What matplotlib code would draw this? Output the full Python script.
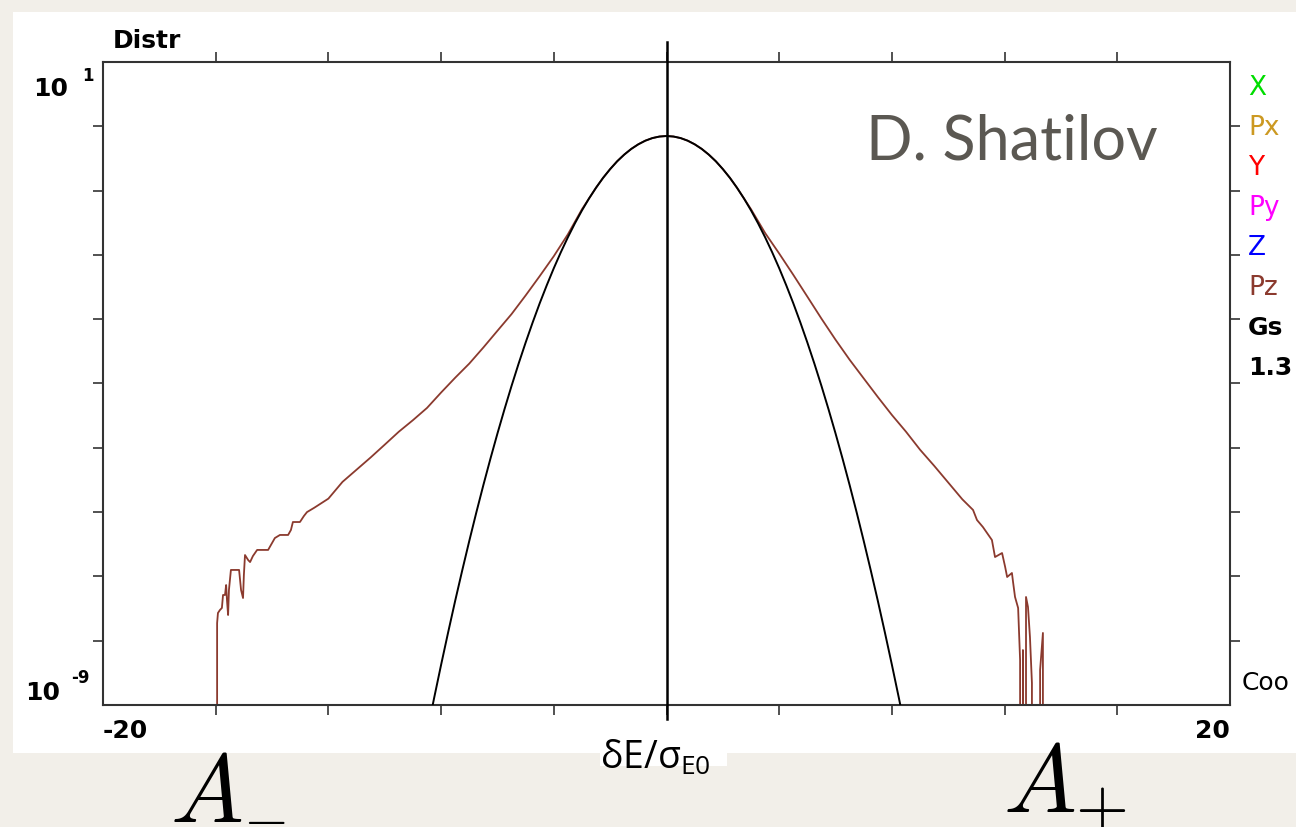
import matplotlib.pyplot as plt
import numpy as np
from matplotlib.patches import Rectangle
from matplotlib.ticker import NullLocator

# Gaussian fit (sigma ~ 1.3), one half; mirrored below
gs_half_x = [0.0, 0.25, 0.5, 0.75, 1.0, 1.25, 1.5, 1.75, 2.0, 2.25, 2.5, 2.75,
             3.0, 3.25, 3.5, 3.75, 4.0, 4.25, 4.5, 4.75, 5.0, 5.25, 5.5, 5.75,
             6.0, 6.25, 6.5, 6.75, 7.0, 7.25, 7.5, 7.75, 8.0, 8.25, 8.5]
gs_half_val = [0.706, 0.693, 0.656, 0.598, 0.525, 0.445, 0.363, 0.286, 0.216,
               0.158, 0.111, 0.0754, 0.0492, 0.0310, 0.0188, 0.0110, 6.21e-3,
               3.37e-3, 1.77e-3, 8.91e-4, 4.33e-4, 2.03e-4, 9.16e-5, 3.98e-5,
               1.67e-5, 6.75e-6, 2.63e-6, 9.86e-7, 3.56e-7, 1.24e-7, 4.18e-8,
               1.35e-8, 4.22e-9, 1.27e-9, 3.67e-10]

# Pz distribution (0 = empty bin)
pz_x = [-16.5, -15.96, -15.95, -15.92, -15.85, -15.78, -15.74, -15.67, -15.63,
        -15.60, -15.56, -15.53, -15.46, -15.17, -15.10, -15.03, -15.00, -14.96,
        -14.85, -14.78, -14.68, -14.53, -14.14, -14.04, -13.90, -13.72, -13.43,
        -13.33, -13.26, -13.01, -12.87, -12.76, -12.5, -12.0, -11.5, -11.0,
        -10.5, -10.0, -9.5, -9.0, -8.5, -8.0, -7.5, -7.0, -6.5, -6.0, -5.5,
        -5.0, -4.5, -4.0, -3.5, -3.0, -2.75, -2.5, -2.25, -2.0, -1.75, -1.5,
        -1.25, -1.0, -0.75, -0.5, -0.25, 0.0, 0.25, 0.5, 0.75, 1.0, 1.25, 1.5,
        1.75, 2.0, 2.25, 2.5, 2.75, 3.0, 3.5, 4.0, 4.5, 5.0, 5.5, 6.0, 6.5,
        7.0, 7.5, 8.0, 8.5, 9.0, 9.5, 10.0, 10.5, 10.88, 11.02, 11.23, 11.55,
        11.66, 11.91, 12.02, 12.09, 12.26, 12.30, 12.37, 12.48, 12.55, 12.58,
        12.62, 12.65, 12.72, 12.74, 12.76, 12.83, 12.90, 12.97, 13.00, 13.24,
        13.26, 13.36, 13.38, 13.6]
pz_val = [0, 0, 1.88e-8, 2.70e-8, 3.00e-8, 3.23e-8, 5.14e-8, 5.14e-8, 7.35e-8,
          4.30e-8, 2.51e-8, 6.15e-8, 1.26e-7, 1.26e-7, 6.15e-8, 4.61e-8,
          1.05e-7, 2.15e-7, 1.80e-7, 1.67e-7, 2.07e-7, 2.58e-7, 2.58e-7,
          3.08e-7, 3.95e-7, 4.41e-7, 4.41e-7, 5.27e-7, 7.01e-7, 7.01e-7,
          8.69e-7, 1.00e-6, 1.17e-6, 1.62e-6, 2.95e-6, 4.57e-6, 7.08e-6,
          1.12e-5, 1.78e-5, 2.69e-5, 4.17e-5, 7.24e-5, 1.23e-4, 2.04e-4,
          3.63e-4, 6.61e-4, 1.20e-3, 2.34e-3, 4.68e-3, 9.55e-3, 0.0209, 0.0513,
          0.0754, 0.111, 0.158, 0.216, 0.286, 0.363, 0.445, 0.525, 0.598, 0.656,
          0.693, 0.706, 0.693, 0.656, 0.598, 0.525, 0.445, 0.363, 0.286, 0.216,
          0.158, 0.111, 0.0754, 0.0513, 0.0219, 0.0105, 4.90e-3, 2.24e-3,
          1.02e-3, 4.79e-4, 2.34e-4, 1.20e-4, 6.17e-5, 3.24e-5, 1.78e-5,
          9.33e-6, 5.25e-6, 2.88e-6, 1.58e-6, 1.08e-6, 7.53e-7, 5.86e-7,
          3.68e-7, 2.00e-7, 2.31e-7, 1.40e-7, 9.79e-8, 1.13e-7, 8.18e-8,
          4.79e-8, 3.23e-8, 5.01e-9, 0, 0, 7.16e-9, 0, 0, 4.79e-8, 3.34e-8,
          1.14e-8, 2.20e-9, 0, 0, 3.50e-9, 1.32e-8, 0, 0]

legend_names = ['X', 'Px', 'Y', 'Py', 'Z', 'Pz']
legend_colors = ['#00dd00', '#cc9922', '#ff0000', '#ff00ff', '#0000ff', '#8b3a2e']

gs_x = np.concatenate([-np.array(gs_half_x[::-1]), gs_half_x[1:]])
gs_val = np.concatenate([gs_half_val[::-1], gs_half_val[1:]])

W, H = 1296, 827
fig = plt.figure(figsize=(W / 100, H / 100), dpi=100)
fig.patch.set_facecolor('#f2efe9')
# white page behind the plot
fig.patches.append(Rectangle((13 / W, 1 - 753 / H), (W - 13) / W, 741 / H,
                             transform=fig.transFigure, facecolor='white',
                             edgecolor='none', zorder=-2))
fig.patches.append(Rectangle((600 / W, 1 - 766 / H), 127 / W, 14 / H,
                             transform=fig.transFigure, facecolor='white',
                             edgecolor='none', zorder=-2))

ax = fig.add_axes([103 / W, 1 - 705 / H, 1127 / W, 643 / H])
ax.set_yscale('log')
ax.plot(pz_x, pz_val, color='#8b3a2e', lw=1.3, zorder=2)
ax.plot(gs_x, gs_val, color='black', lw=1.4, zorder=3)
ax.axvline(0, ymin=-0.022, ymax=1.031, color='black', lw=1.8, clip_on=False, zorder=4)
ax.set_xlim(-20, 20)
ax.set_ylim(1e-9, 10)

ax.set_xticks(np.arange(-16, 17, 4))
ax.set_yticks([10.0 ** k for k in range(-8, 1)])
ax.yaxis.set_minor_locator(NullLocator())
ax.tick_params(axis='both', which='major', direction='out', length=7.5, width=1.2,
               color='#333333', top=True, bottom=True, left=True, right=True,
               labelbottom=False, labelleft=False)
for s in ax.spines.values():
    s.set_linewidth(1.5)
    s.set_color('#333333')

def ftext(x, y, s, **kw):
    # place text by pixel position on the figure
    kw.setdefault('va', 'baseline')
    kw.setdefault('family', 'DejaVu Sans')
    return fig.text(x / W, 1 - y / H, s, **kw)

lab = dict(fontsize=18, fontweight='bold', color='black')
ftext(113, 48, 'Distr', **lab)
ftext(68, 96, '10', ha='right', **lab)
ftext(82, 81, '1', fontsize=12, fontweight='bold')
ftext(60, 700, '10', ha='right', **lab)
ftext(71, 683, '-9', fontsize=12, fontweight='bold')
ftext(103, 738, '-20', **lab)
ftext(1230, 738, '20', ha='right', **lab)

for i, (name, col) in enumerate(zip(legend_names, legend_colors)):
    ftext(1248, 95 + 40 * i, name, fontsize=19, color=col)
ftext(1248, 335, 'Gs', **lab)
ftext(1248, 375, '1.3', **lab)
ftext(1242, 690, 'Coo', fontsize=18, color='black')

ftext(866, 160, 'D. Shatilov', family='Lato', fontsize=44, color='#5b5852')

plt.rcParams['mathtext.fontset'] = 'custom'
plt.rcParams['mathtext.rm'] = 'Open Sans'
ftext(600, 769, r'$\mathrm{\delta E/\sigma_{E0}}$', family='Open Sans', fontsize=27)
ftext(170, 822, r'$A$', fontsize=70, math_fontfamily='cm')
ftext(243, 820, r'$-$', fontsize=42, va='center', math_fontfamily='cm')
ftext(1003, 812, r'$A_{+}$', fontsize=70, math_fontfamily='cm')

fig.savefig('out.png', dpi=100, facecolor=fig.get_facecolor())
